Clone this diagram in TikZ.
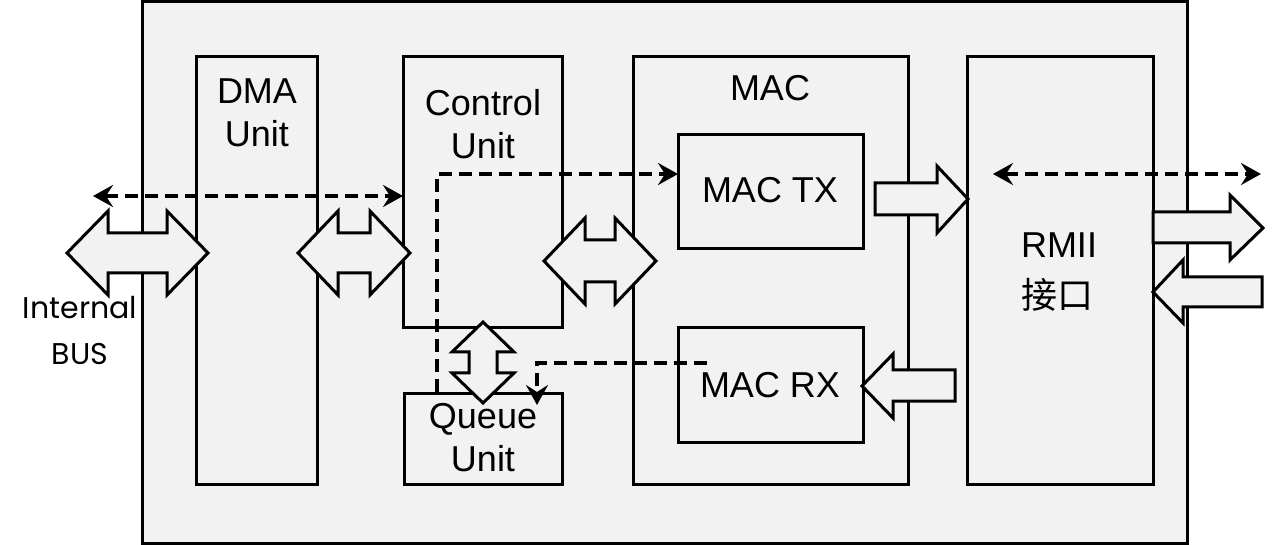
\documentclass[tikz,border=0pt]{standalone}
\usepackage{fontspec}
\setmainfont{Liberation Sans}
\newfontfamily\cjk{Noto Sans CJK SC}
\newfontfamily\gothic{Poppins}
\usetikzlibrary{arrows.meta}
\definecolor{panel}{HTML}{F2F2F2}
\tikzset{dtip/.tip={Stealth[length=20pt,width=22pt,inset=7pt]}}
\begin{document}
\begin{tikzpicture}[x=1pt,y=-1pt,
  box/.style={draw=black,line width=3pt,rectangle,inner sep=0pt,outer sep=0pt},
  blk/.style={draw=black,fill=panel,line width=3pt,line join=miter},
  dsh/.style={line width=3.2pt,dash pattern=on 13pt off 7pt},
  lbl/.style={font=\fontsize{36}{43}\selectfont,align=center,inner sep=0pt}]
\useasboundingbox (0,0) rectangle (1283,545);
\fill[white] (0,0) rectangle (1283,545);
% outer panel
\node[box,fill=panel,minimum width=1045pt,minimum height=541pt] (outer) at (664.5,272.5) {};
% inner boxes
\node[box,minimum width=121pt,minimum height=427pt] (dma) at (256.5,270.5) {};
\node[box,minimum width=159pt,minimum height=271pt] (ctrl) at (482.5,192.5) {};
\node[box,minimum width=158pt,minimum height=91pt] (queue) at (483,438.5) {};
\node[box,minimum width=275pt,minimum height=427pt] (mac) at (770.5,270.5) {};
\node[box,minimum width=185pt,minimum height=114pt] (mactx) at (770.5,192) {};
\node[box,minimum width=185pt,minimum height=114pt] (macrx) at (770.5,385) {};
\node[box,minimum width=186pt,minimum height=427pt] (rmii) at (1060,270.5) {};
% block arrows
\draw[blk] (67,253) -- (108,211) -- (108,233) -- (167,233) -- (167,211) -- (208,253) -- (167,295) -- (167,273) -- (108,273) -- (108,295) -- cycle;
\draw[blk] (298,253) -- (338,211) -- (338,233) -- (370,233) -- (370,211) -- (410,253) -- (370,295) -- (370,273) -- (338,273) -- (338,295) -- cycle;
\draw[blk] (544,261) -- (585,218) -- (585,240) -- (615,240) -- (615,218) -- (656,261) -- (615,304) -- (615,282) -- (585,282) -- (585,304) -- cycle;
\draw[blk] (483,322) -- (514,352) -- (497,352) -- (497,373) -- (514,373) -- (483,403) -- (452,373) -- (469,373) -- (469,352) -- (452,352) -- cycle;
\draw[blk] (875,183) -- (937,183) -- (937,166) -- (968,199) -- (937,233) -- (937,215) -- (875,215) -- cycle;
\draw[blk] (1153,212) -- (1230,212) -- (1230,195) -- (1263,228) -- (1230,260) -- (1230,243) -- (1153,243) -- cycle;
\draw[blk] (1262,277) -- (1183,277) -- (1183,260) -- (1153,292) -- (1183,323) -- (1183,307) -- (1262,307) -- cycle;
\draw[blk] (955,370) -- (893,370) -- (893,354) -- (862,386) -- (893,418) -- (893,401) -- (955,401) -- cycle;
% dashed connectors
\coordinate (dA) at (93,196);
\draw[dsh,{dtip}-{dtip}] (dA) -- (dA -| ctrl.west);
\coordinate (dB) at (437,392);
\coordinate (dBend) at (678,174);
\draw[dsh,-{dtip}] (dB) |- (dBend);
\coordinate (dC) at (707,363);
\coordinate (dCend) at (537,405);
\draw[dsh,-{dtip}] (dC) -| (dCend);
\coordinate (dD1) at (993,174);
\coordinate (dD2) at (1261,174);
\draw[dsh,{dtip}-{dtip}] (dD1) -- (dD2);
% labels
\node[lbl] (tdma) at (257,113) {DMA\\Unit};
\node[lbl] (tctrl) at (483,124) {Control\\Unit};
\node[lbl] (tqueue) at (483,437.5) {Queue\\Unit};
\node[lbl] (tmac) at (770,88) {MAC};
\node[lbl] (ttx) at (770,190) {MAC TX};
\node[lbl] (trx) at (770,385) {MAC RX};
\node[lbl] (trmii) at (1059,245) {RMII};
\node[lbl,font=\cjk\fontsize{36}{43}\selectfont] (tjk) at (1057,295) {接口};
\node[lbl,font=\gothic\fontsize{30}{46}\selectfont] (tbus) at (80,331) {Internal\\BUS};
\end{tikzpicture}
\end{document}
